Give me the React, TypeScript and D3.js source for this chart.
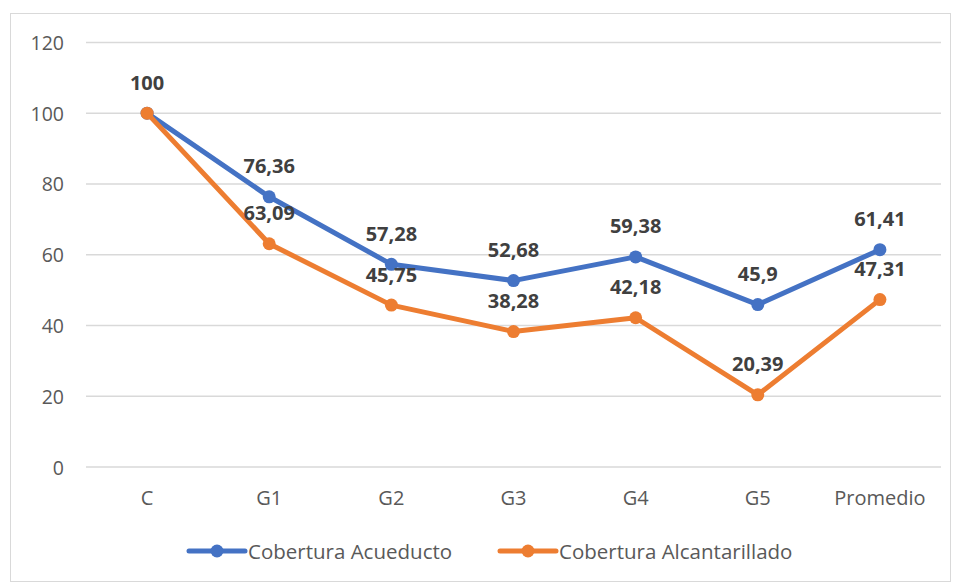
import React from "react";
import * as d3 from "d3";

const categories = ["C", "G1", "G2", "G3", "G4", "G5", "Promedio"];
const acueducto = [100, 76.36, 57.28, 52.68, 59.38, 45.9, 61.41];
const alcantarillado = [100, 63.09, 45.75, 38.28, 42.18, 20.39, 47.31];
const yTicks = [0, 20, 40, 60, 80, 100, 120];
const seriesNames = ["Cobertura Acueducto", "Cobertura Alcantarillado"];
const colors = ["#4472C4", "#ED7D31"];

const W = 956;
const H = 585;
const left = 86;
const right = 941;
const top = 42.4;
const bottom = 467;
const font = "'Open Sans', sans-serif";

const fmt = (v: number) => String(v).replace(".", ",");

export default function App() {
  const x = d3.scaleBand<string>().domain(categories).range([left, right]);
  const y = d3.scaleLinear().domain([0, 120]).range([bottom, top]);
  const cx = (c: string) => (x(c) as number) + x.bandwidth() / 2;
  const line = d3
    .line<number>()
    .x((_, i) => cx(categories[i]))
    .y((d) => y(d));
  const series = [acueducto, alcantarillado];

  return (
    <svg
      width={W}
      height={H}
      style={{ position: "absolute", left: 0, top: 0, background: "#fff" }}
    >
      <rect x={10.5} y={13.5} width={940} height={568} fill="#fff" stroke="#D9D9D9" strokeWidth={1} />
      {yTicks.map((t) => (
        <g key={t}>
          <line x1={left} x2={right} y1={y(t)} y2={y(t)} stroke="#D9D9D9" strokeWidth={1.5} />
          <text
            x={64}
            y={y(t)}
            textAnchor="end"
            dominantBaseline="central"
            fontFamily={font}
            fontSize={19.5}
            fill="#595959"
          >
            {t}
          </text>
        </g>
      ))}
      {categories.map((c) => (
        <text
          key={c}
          x={cx(c)}
          y={497}
          textAnchor="middle"
          dominantBaseline="central"
          fontFamily={font}
          fontSize={20}
          fill="#595959"
        >
          {c}
        </text>
      ))}
      {series.map((s, si) => (
        <g key={si}>
          <path d={line(s) || ""} fill="none" stroke={colors[si]} strokeWidth={5} strokeLinejoin="round" strokeLinecap="round" />
          {s.map((v, i) => (
            <circle key={i} cx={cx(categories[i])} cy={y(v)} r={6.5} fill={colors[si]} />
          ))}
        </g>
      ))}
      {series.map((s, si) =>
        s.map((v, i) =>
          si === 1 && v === acueducto[i] ? null : (
            <text
              key={`${si}-${i}`}
              x={cx(categories[i])}
              y={y(v) - 31}
              textAnchor="middle"
              dominantBaseline="central"
              fontFamily={font}
              fontSize={20}
              fontWeight="bold"
              fill="#404040"
            >
              {fmt(v)}
            </text>
          )
        )
      )}
      {seriesNames.map((n, i) => {
        const lx = i === 0 ? 189 : 500;
        return (
          <g key={n}>
            <line x1={lx} x2={lx + 56} y1={551} y2={551} stroke={colors[i]} strokeWidth={5} strokeLinecap="round" />
            <circle cx={lx + 28} cy={551} r={6.5} fill={colors[i]} />
            <text
              x={lx + 59}
              y={551}
              dominantBaseline="central"
              fontFamily={font}
              fontSize={20.5}
              fill="#595959"
            >
              {n}
            </text>
          </g>
        );
      })}
    </svg>
  );
}
